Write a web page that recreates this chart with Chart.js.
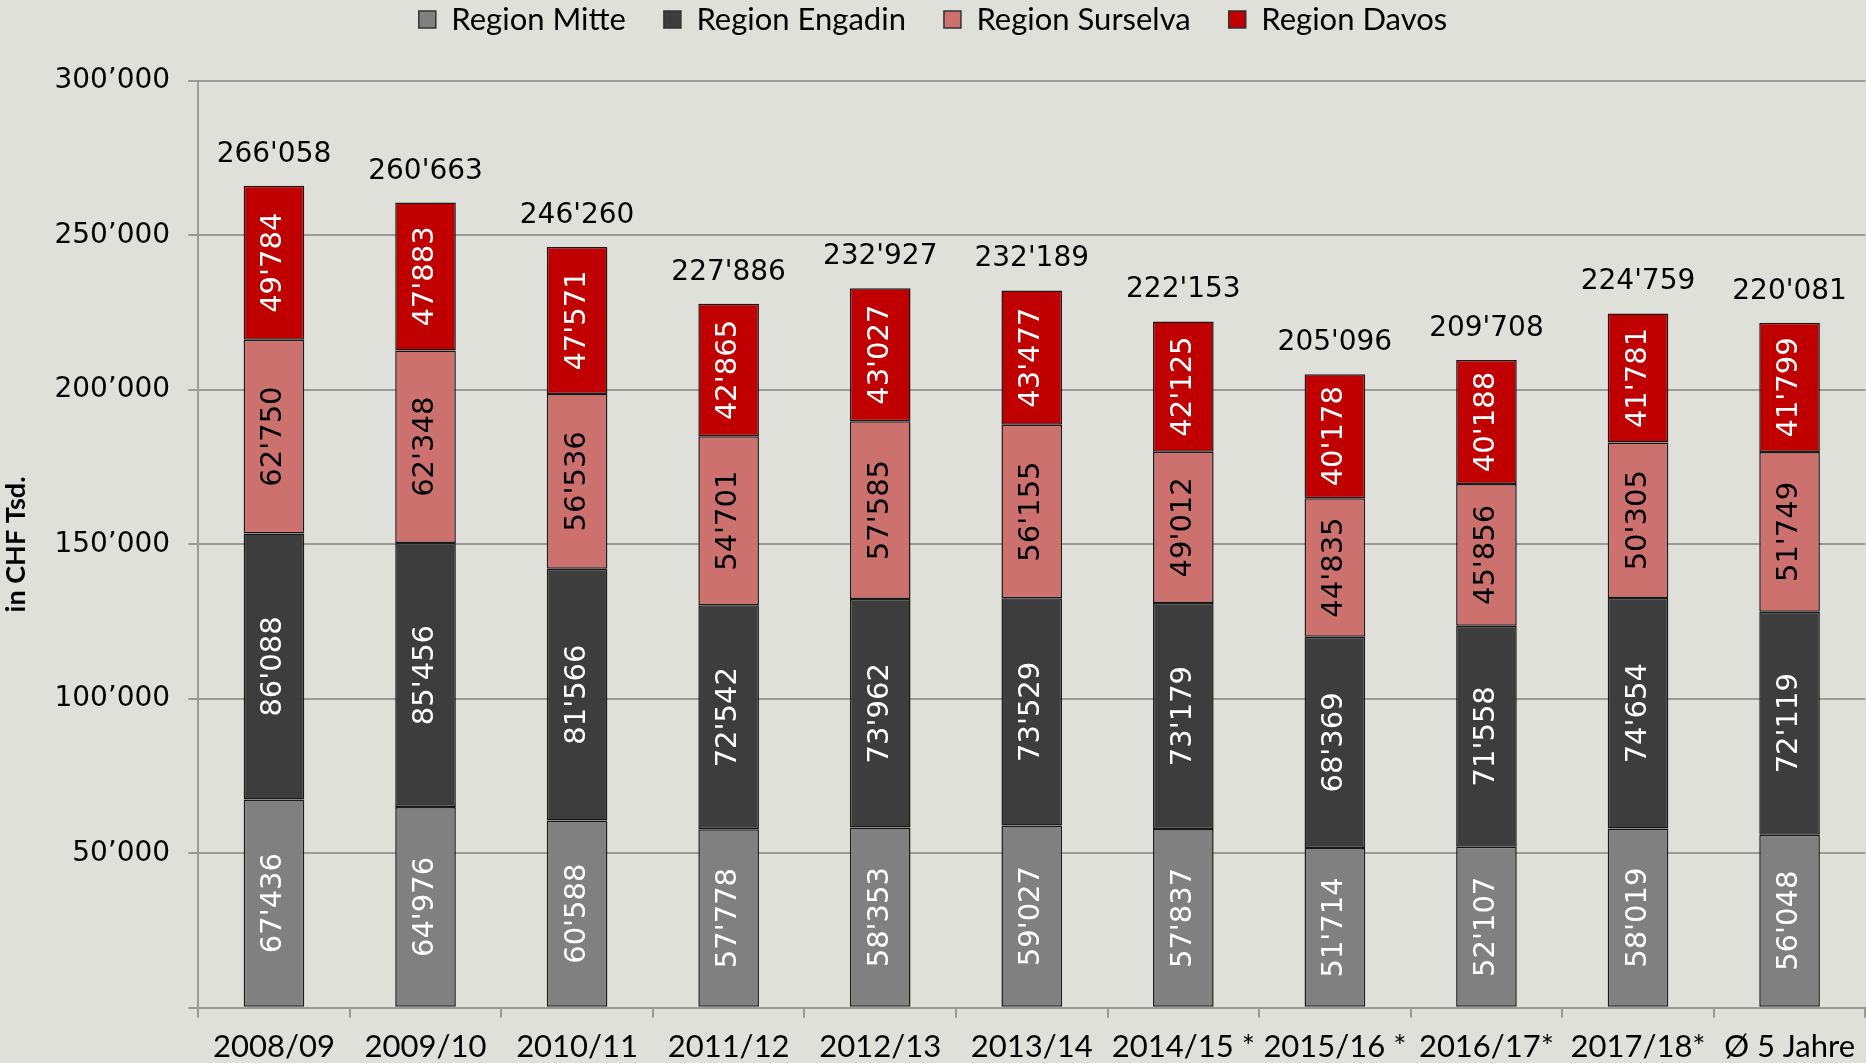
<!DOCTYPE html>
<html>
<head>
<meta charset="utf-8">
<script src="https://cdn.jsdelivr.net/npm/chart.js@4/dist/chart.umd.min.js"></script>
<style>
  html, body { margin: 0; padding: 0; background: #e0e0da; }
  #wrap { width: 1866px; height: 1063px; }
</style>
</head>
<body>
<div id="wrap"><canvas id="chart"></canvas></div>
<script>
// Werte in CHF Tsd.
const saisons = ["2008/09", "2009/10", "2010/11", "2011/12", "2012/13", "2013/14",
  "2014/15 *", "2015/16 *", "2016/17*", "2017/18*", "Ø 5 Jahre"];
const mitte    = [67436, 64976, 60588, 57778, 58353, 59027, 57837, 51714, 52107, 58019, 56048];
const engadin  = [86088, 85456, 81566, 72542, 73962, 73529, 73179, 68369, 71558, 74654, 72119];
const surselva = [62750, 62348, 56536, 54701, 57585, 56155, 49012, 44835, 45856, 50305, 51749];
const davos    = [49784, 47883, 47571, 42865, 43027, 43477, 42125, 40178, 40188, 41781, 41799];
const totale   = [266058, 260663, 246260, 227886, 232927, 232189, 222153, 205096, 209708, 224759, 220081];
const yTicks   = [0, 50000, 100000, 150000, 200000, 250000, 300000];

const fmt = (v) => String(v).replace(/\B(?=(\d{3})+(?!\d))/g, "'");

// Zahlen in den Balken (gedreht) und Summen oben
const labelPlugin = {
  id: "labels",
  afterInit(chart) {
    // Legende höher setzen, Abstand zum Diagramm behalten
    const lg = chart.legend;
    const fit = lg.fit;
    lg.fit = function () {
      fit.call(this);
      this.height += 36;
    };
  },
  afterDatasetsDraw(chart) {
    const ctx = chart.ctx;
    ctx.save();
    ctx.font = "29px 'DejaVu Sans'";
    chart.data.datasets.forEach((ds, i) => {
      const meta = chart.getDatasetMeta(i);
      meta.data.forEach((bar, j) => {
        const cy = (bar.y + bar.base) / 2;
        ctx.save();
        ctx.translate(bar.x, cy);
        ctx.rotate(-Math.PI / 2);
        ctx.textAlign = "center";
        ctx.textBaseline = "middle";
        ctx.fillStyle = ds.labelColor;
        ctx.fillText(fmt(ds.data[j]), 0, 0);
        ctx.restore();
      });
    });
    ctx.font = "28px 'DejaVu Sans'";
    const top = chart.getDatasetMeta(chart.data.datasets.length - 1);
    ctx.fillStyle = "#000";
    ctx.textAlign = "center";
    ctx.textBaseline = "alphabetic";
    top.data.forEach((bar, j) => {
      ctx.fillText(fmt(totale[j]), bar.x, bar.y - 24);
    });
    ctx.restore();
  },
};

const mkSet = (label, data, color, labelColor) => ({
  label, data,
  backgroundColor: color,
  borderColor: "#1a1a1a",
  borderWidth: 1.5,
  borderSkipped: false,
  labelColor,
  barPercentage: 0.4,
  categoryPercentage: 1,
});

new Chart(document.getElementById("chart"), {
  type: "bar",
  data: {
    labels: saisons,
    datasets: [
      mkSet("Region Mitte", mitte, "#808080", "#ffffff"),
      mkSet("Region Engadin", engadin, "#3d3d3d", "#ffffff"),
      mkSet("Region Surselva", surselva, "#cc716d", "#000000"),
      mkSet("Region Davos", davos, "#c00000", "#ffffff"),
    ],
  },
  options: {
    responsive: true,
    maintainAspectRatio: false,
    animation: false,
    layout: { padding: { top: -34, right: 0, left: 0, bottom: -14 } },
    plugins: {
      legend: {
        position: "top",
        labels: {
          color: "#000",
          font: { family: "Lato", size: 31 },
          boxWidth: 17,
          boxHeight: 17,
          padding: 38,
          generateLabels(chart) {
            return chart.data.datasets.map((ds, i) => ({
              text: ds.label,
              fillStyle: ds.backgroundColor,
              strokeStyle: "#333",
              lineWidth: 1.5,
              datasetIndex: i,
            }));
          },
        },
      },
      tooltip: { enabled: false },
    },
    scales: {
      x: {
        stacked: true,
        border: { color: "#9a9a9a", width: 2 },
        grid: { drawOnChartArea: false, drawTicks: true, tickLength: 10, color: "#9a9a9a", lineWidth: 2, offset: true },
        ticks: { color: "#000", font: { family: "Lato", size: 31 }, padding: 11, maxRotation: 0, autoSkip: false },
      },
      y: {
        stacked: true,
        min: 0,
        max: 300000,
        afterBuildTicks: (axis) => { axis.ticks = yTicks.map((v) => ({ value: v })); },
        border: { color: "#9a9a9a", width: 2 },
        grid: { color: "#9a9a9a", lineWidth: 2, tickLength: 10 },
        ticks: {
          color: "#000",
          font: { family: "DejaVu Sans", size: 28 },
          padding: 18,
          callback: (v) => (v === 0 ? "" : fmt(v).replace("'", "’")),
        },
        title: {
          display: true,
          text: "in CHF Tsd.",
          color: "#000",
          font: { family: "Lato", size: 27, weight: "bold" },
          padding: { top: 0, bottom: 4 },
        },
      },
    },
  },
  plugins: [labelPlugin],
});
</script>
</body>
</html>
